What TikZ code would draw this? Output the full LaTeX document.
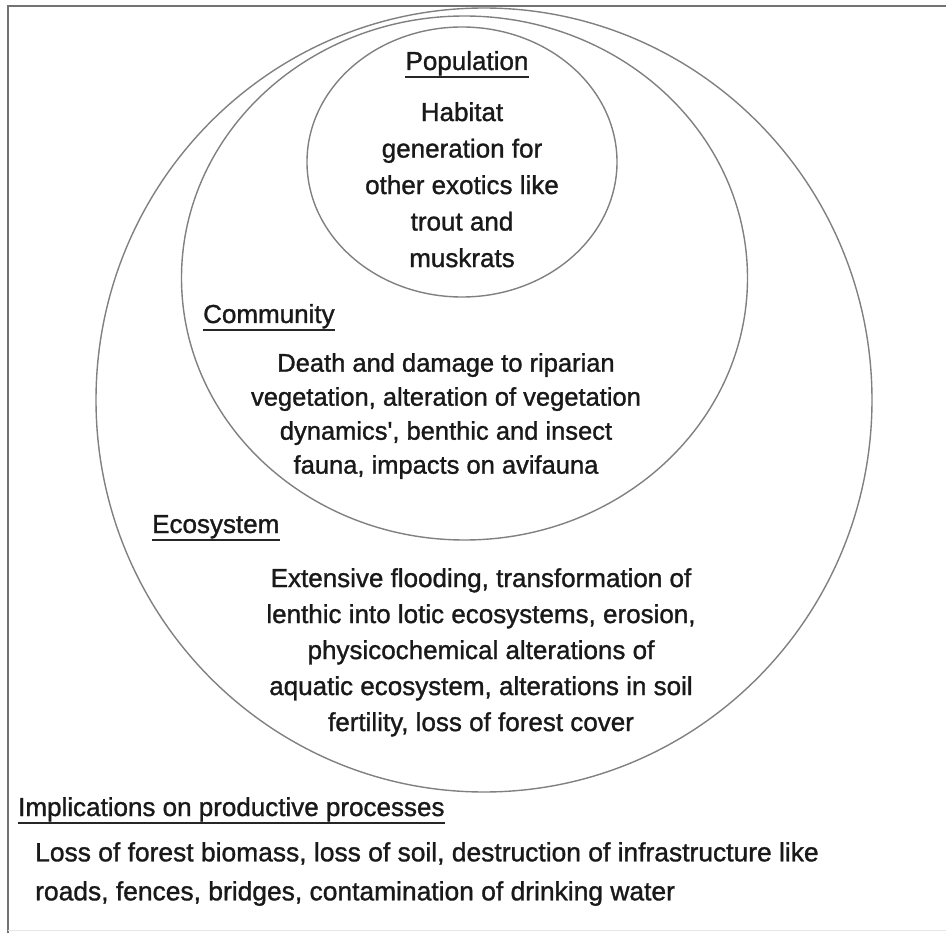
\documentclass[tikz,border=0pt]{standalone}
\usepackage{fontspec}
\setmainfont[FakeBold=1.2]{Liberation Sans}
\newfontfamily\heavyfont[FakeBold=1.2]{Liberation Sans}
\begin{document}
\begin{tikzpicture}[x=1pt,y=-1pt,
  ring/.style={draw=black!50, line width=1.4pt},
  frameline/.style={draw=black!55, line width=2pt},
  heading/.style={inner sep=0pt, font=\heavyfont\fontsize{26}{30}\selectfont, text=black!90},
  body/.style={inner sep=0pt, align=center, text=black!90},
  uline/.style={draw=black!85, line width=1.8pt}]
\useasboundingbox (0,0) rectangle (946,933);
% frame
\draw[frameline] (946,6) -- (7.5,6) -- (7.5,933);
\draw[draw=black!10, line width=1pt] (7.5,930.5) -- (946,930.5);
% rings
\draw[ring] (484,400) ellipse [x radius=388pt, y radius=392pt];
\draw[ring] (464.5,278) ellipse [x radius=283pt, y radius=262pt];
\draw[ring] (462,162) ellipse [x radius=155pt, y radius=135pt];
% headings
\node[heading, anchor=base] (popl) at (467,70) {Population};
\node[heading, anchor=base west] (coml) at (203,323) {Community};
\node[heading, anchor=base west] (ecol) at (152,533) {Ecosystem};
\node[heading, anchor=base west] (impl) at (18,816) {Implications on productive processes};
\draw[uline] ([yshift=-7pt]popl.base west) -- ([yshift=-7pt]popl.base east);
\draw[uline] ([yshift=-7pt]coml.base west) -- ([yshift=-7pt]coml.base east);
\draw[uline] ([yshift=-7pt]ecol.base west) -- ([yshift=-7pt]ecol.base east);
\draw[uline] ([yshift=-7pt]impl.base west) -- ([yshift=-7pt]impl.base east);
% bodies
\node[body, anchor=north, font=\heavyfont\fontsize{26}{36.5}\selectfont] (popt) at (462,102)
  {Habitat\\generation for\\other exotics like\\trout and\\muskrats};
\node[body, anchor=north, font=\heavyfont\fontsize{25.5}{34}\selectfont] (comt) at (446,353)
  {Death and damage to riparian\\vegetation, alteration of vegetation\\dynamics{\char"27}, benthic and insect\\fauna, impacts on avifauna};
\node[body, anchor=north, font=\heavyfont\fontsize{26}{36}\selectfont] (ecot) at (481,568)
  {Extensive flooding, transformation of\\lenthic into lotic ecosystems, erosion,\\physicochemical alterations of\\aquatic ecosystem, alterations in soil\\fertility, loss of forest cover};
\node[body, align=left, anchor=north west, font=\heavyfont\fontsize{26.4}{39}\selectfont] (impt) at (35,842)
  {Loss of forest biomass, loss of soil, destruction of infrastructure like\\roads, fences, bridges, contamination of drinking water};
\end{tikzpicture}
\end{document}
